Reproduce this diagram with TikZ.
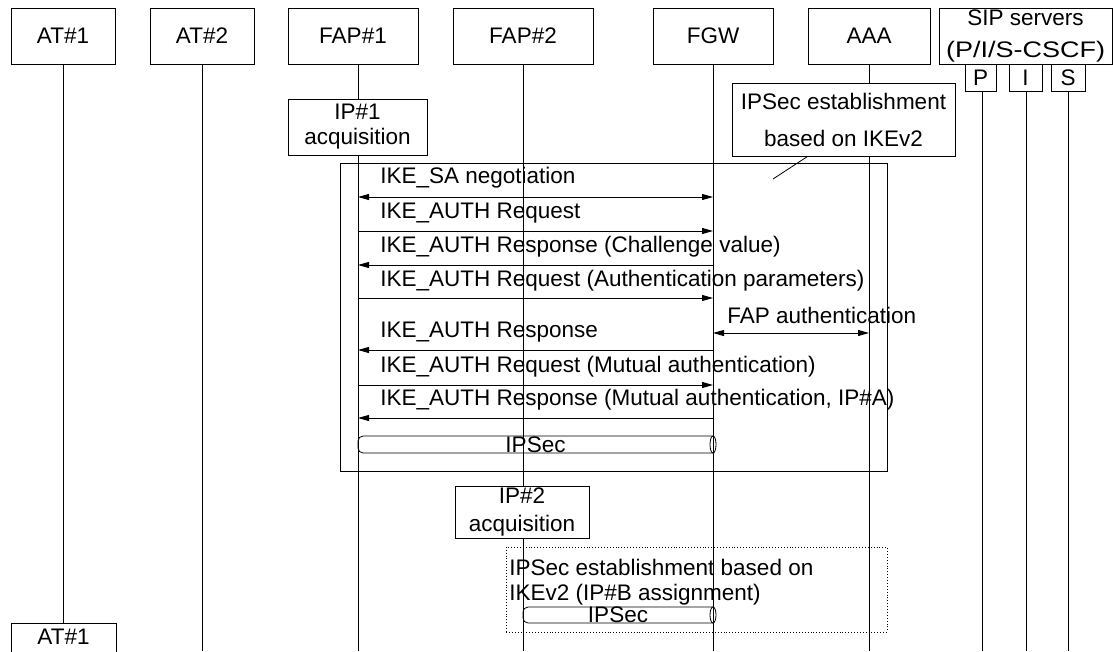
\documentclass[tikz,border=0pt]{standalone}
\usepackage{fontspec}
\setmainfont{Liberation Sans}
\usetikzlibrary{arrows.meta}
\begin{document}
\begin{tikzpicture}[x=1pt,y=-1pt,
  font=\fontsize{22.5}{26}\selectfont,
  line width=0.8pt,
  head/.style={draw, fill=white, minimum height=56pt, inner sep=0pt},
  sub/.style={draw, fill=white, minimum height=27pt, inner sep=0pt},
  note/.style={draw, fill=white, inner sep=0pt, align=center},
  lifeline/.style={line width=0.8pt},
  lbl/.style={anchor=west, inner sep=0pt},
  tip/.tip={Triangle[length=11pt,width=6pt]},
  msg/.style={-tip},
  bidi/.style={tip-tip},
  pipe/.style={line width=0.8pt},
  frame/.style={draw, inner sep=0pt},
]
\useasboundingbox (0,0) rectangle (1113,651);

% x positions of the lifelines
\coordinate (at1L)  at (63,0);
\coordinate (at2L)  at (202,0);
\coordinate (fap1L) at (358,0);
\coordinate (fap2L) at (523,0);
\coordinate (fgwL)  at (713,0);
\coordinate (aaaL)  at (869,0);
\coordinate (pL)    at (982,0);
\coordinate (iL)    at (1026,0);
\coordinate (sL)    at (1068,0);
\coordinate (floor) at (0,651);

% lifelines
\draw[lifeline] (at1L |- 0,64)  -- (at1L |- 0,623);
\draw[lifeline] (at2L |- 0,64)  -- (at2L |- floor);
\draw[lifeline] (fap1L |- 0,64) -- (fap1L |- floor);
\draw[lifeline] (fap2L |- 0,64) -- (fap2L |- floor);
\draw[lifeline] (fgwL |- 0,64)  -- (fgwL |- floor);
\draw[lifeline] (aaaL |- 0,64)  -- (aaaL |- floor);
\draw[lifeline] (pL |- 0,91)    -- (pL |- floor);
\draw[lifeline] (iL |- 0,91)    -- (iL |- floor);
\draw[lifeline] (sL |- 0,91)    -- (sL |- floor);

% entity heads
\node[head, minimum width=104pt] (at1)  at (63,36)   {AT\#1};
\node[head, minimum width=104pt] (at2)  at (202,36)  {AT\#2};
\node[head, minimum width=130pt] (fap1) at (353,36)  {FAP\#1};
\node[head, minimum width=140pt] (fap2) at (523,36)  {FAP\#2};
\node[head, minimum width=120pt] (fgw)  at (713,36)  {FGW};
\node[head, minimum width=122pt] (aaa)  at (869,36)  {AAA};
\node[head, minimum width=173pt, align=center,
      font=\fontsize{22.5}{32}\selectfont] (sip) at (1025.5,36)
      {SIP servers\\\scalebox{1.2}[1]{(P/I/S-CSCF)}};
\node[sub, minimum width=31pt] (p) at (980.5,77.5) {P};
\node[sub, minimum width=33pt] (i) at (1025.5,77.5) {I};
\node[sub, minimum width=34pt] (s) at (1068,77.5) {S};

% bottom head, running off the lower edge
\node[draw, fill=white, anchor=north, minimum width=105pt, inner sep=0pt,
      text height=21pt, text depth=20pt] (at1b) at (63.5,623) {AT\#1};

% IP acquisition notes
\node[note, minimum width=139pt, minimum height=56pt,
      font=\fontsize{22.5}{25}\selectfont] (ip1) at (357.5,127) {IP\#1\\acquisition};
\node[note, minimum width=134pt, minimum height=52pt,
      font=\fontsize{22.5}{28}\selectfont] (ip2) at (522,512) {IP\#2\\acquisition};

% IKEv2 note with callout
\node[note, minimum width=223pt, minimum height=73pt,
      font=\fontsize{22.5}{37}\selectfont] (est) at (843.5,119.5)
      {IPSec establishment\\based on IKEv2};
\coordinate (callout) at (773,179);
\draw (est.south west) ++(76,0) -- (callout);

% IKEv2 frame
\node[frame, minimum width=547pt, minimum height=308pt] (ike) at (613.5,317) {};

% messages
\node[lbl] (t1) at (380,178) {IKE\_SA negotiation};
\draw[bidi] (fap1L |- 0,197) -- (fgwL |- 0,197);
\node[lbl] (t2) at (380,213) {IKE\_AUTH Request};
\draw[msg] (fap1L |- 0,231) -- (fgwL |- 0,231);
\node[lbl] (t3) at (380,247) {IKE\_AUTH Response (Challenge value)};
\draw[msg] (fgwL |- 0,265) -- (fap1L |- 0,265);
\node[lbl] (t4) at (380,281) {IKE\_AUTH Request (Authentication parameters)};
\draw[msg] (fap1L |- 0,298) -- (fgwL |- 0,298);
\node[lbl] (t5) at (727,315) {FAP authentication};
\draw[bidi] (fgwL |- 0,333) -- (aaaL |- 0,333);
\node[lbl] (t6) at (380,332) {IKE\_AUTH Response};
\draw[msg] (fgwL |- 0,350) -- (fap1L |- 0,350);
\node[lbl] (t7) at (380,367) {IKE\_AUTH Request (Mutual authentication)};
\draw[msg] (fap1L |- 0,385) -- (fgwL |- 0,385);
\node[lbl] (t8) at (380,400) {IKE\_AUTH Response (Mutual authentication, IP\#A)};
\draw[msg] (fgwL |- 0,418) -- (fap1L |- 0,418);

% first IPSec tunnel
\draw[pipe, rounded corners=5pt] (fgwL |- 0,436) -- (fap1L |- 0,436)
      -- (fap1L |- 0,453) -- (fgwL |- 0,453);
\draw[pipe] (fgwL |- 0,444.5) ellipse [x radius=3, y radius=8.5];
\node[inner sep=0pt] (tun1) at (535.5,444.5) {IPSec};

% second IKEv2 exchange (dotted)
\node[draw, dotted, line width=0.9pt, minimum width=381pt, minimum height=85pt,
      inner sep=0pt] (ike2) at (696.5,589.5) {};
\node[lbl] (t9)  at (509,567) {IPSec establishment based on};
\node[lbl] (t10) at (509,595) {IKEv2 (IP\#B assignment)};

% second IPSec tunnel
\draw[pipe, rounded corners=5pt] (fgwL |- 0,607) -- (fap2L |- 0,607)
      -- (fap2L |- 0,623) -- (fgwL |- 0,623);
\draw[pipe] (fgwL |- 0,615) ellipse [x radius=3, y radius=8];
\node[inner sep=0pt] (tun2) at (618,615) {IPSec};
\end{tikzpicture}
\end{document}
